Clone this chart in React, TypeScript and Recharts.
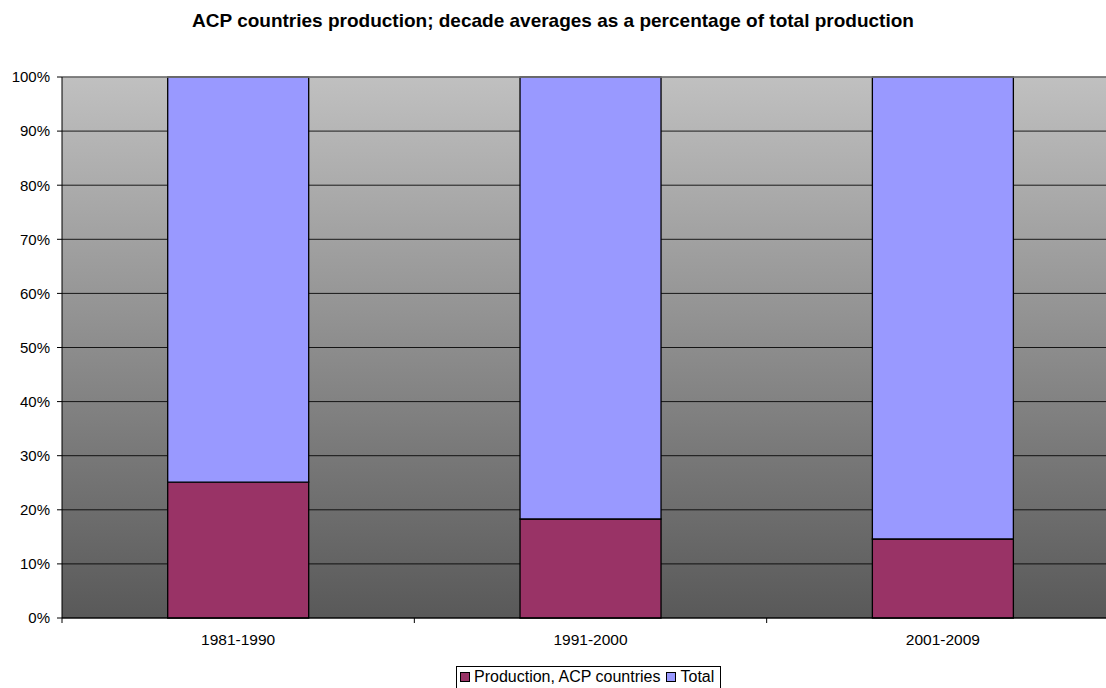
import React from 'react';
import { BarChart, Bar, XAxis, YAxis, CartesianGrid, ReferenceLine, Legend } from 'recharts';

const categories = ['1981-1990', '1991-2000', '2001-2009'];
const productionACP = [25.1, 18.3, 14.6];
const totalShare = [74.9, 81.7, 85.4];
const yTicks = [0, 10, 20, 30, 40, 50, 60, 70, 80, 90, 100];
const seriesNames = ['Production, ACP countries', 'Total'];
const seriesColors = ['#993366', '#9999FF'];
const title = 'ACP countries production; decade averages as a percentage of total production';

const data = categories.map((c, i) => ({ cat: c, prod: productionACP[i], total: totalShare[i] }));

const FONT = "Arial, 'Liberation Sans', sans-serif";

const CHART_W = 1130;
const CHART_H = 688;
const MARGIN = { top: 77, right: 11, bottom: 25, left: 0 };
const Y_AXIS_W = 62;
const BAND = (CHART_W - MARGIN.left - MARGIN.right - Y_AXIS_W) / categories.length;
const X_TICK_MARGIN = 16;

const CatTick = (props: any) => {
  const { x, y, payload, index } = props;
  const axisY = y - X_TICK_MARGIN;
  const left = x - BAND / 2;
  const right = x + BAND / 2;
  return (
    <g>
      <line x1={left} x2={left} y1={axisY} y2={axisY + 5} stroke="#000" />
      {index === categories.length - 1 && <line x1={right} x2={right} y1={axisY} y2={axisY + 5} stroke="#000" />}
      <text x={x} y={y} dy="0.71em" textAnchor="middle" fill="#000" fontSize={15.5} fontFamily={FONT}>
        {payload.value}
      </text>
    </g>
  );
};

const LegendBox = (props: any) => {
  const payload = props.payload || [];
  return (
    <div
      style={{
        border: '1px solid #000',
        background: '#fff',
        display: 'inline-flex',
        alignItems: 'center',
        padding: '1px 6px 4px 3px',
        fontFamily: FONT,
        fontSize: 16,
        color: '#000',
        whiteSpace: 'nowrap',
      }}
    >
      {payload.map((p: any, i: number) => (
        <span key={i} style={{ display: 'inline-flex', alignItems: 'center', marginRight: i < payload.length - 1 ? 6 : 0 }}>
          <span
            style={{
              display: 'inline-block',
              width: 8,
              height: 8,
              background: p.color,
              border: '1.5px solid #000',
              marginRight: 4,
            }}
          />
          {p.value}
        </span>
      ))}
    </div>
  );
};

export default function App() {
  return (
    <div style={{ position: 'absolute', left: 0, top: 0, width: 1106, height: 688, overflow: 'hidden', background: '#fff' }}>
      <div
        style={{
          position: 'absolute',
          left: 0,
          top: 10,
          width: 1106,
          textAlign: 'center',
          fontFamily: FONT,
          fontWeight: 'bold',
          fontSize: 19,
          color: '#000',
        }}
      >
        {title}
      </div>
      <BarChart
        width={CHART_W}
        height={CHART_H}
        data={data}
        margin={MARGIN}
        barCategoryGap="30%"
        style={{ position: 'absolute', left: 0, top: 0 }}
      >
        <defs>
          <linearGradient id="bgGrad" x1="0" y1="0" x2="0" y2="1">
            <stop offset="0%" stopColor="#c0c0c0" />
            <stop offset="100%" stopColor="#595959" />
          </linearGradient>
        </defs>
        <CartesianGrid
          vertical={false}
          stroke="#000"
          strokeOpacity={0.85}
          fill="url(#bgGrad)"
          fillOpacity={1}
        />
        <XAxis
          dataKey="cat"
          type="category"
          axisLine={{ stroke: '#000' }}
          tickLine={false}
          tickSize={0}
          tickMargin={X_TICK_MARGIN}
          height={45}
          interval={0}
          tick={<CatTick />}
        />
        <YAxis
          width={Y_AXIS_W}
          domain={[0, 100]}
          ticks={yTicks}
          tickFormatter={(v: number) => `${v}%`}
          tickSize={5}
          tickMargin={7}
          axisLine={{ stroke: '#000' }}
          tickLine={{ stroke: '#000' }}
          tick={{ fill: '#000', fontSize: 15, fontFamily: FONT }}
          interval={0}
        />
        <ReferenceLine y={100} stroke="#808080" strokeWidth={1.5} />
        <Bar
          dataKey="prod"
          name={seriesNames[0]}
          stackId="s"
          fill={seriesColors[0]}
          stroke="#000"
          strokeWidth={1.3}
          isAnimationActive={false}
        />
        <Bar
          dataKey="total"
          name={seriesNames[1]}
          stackId="s"
          fill={seriesColors[1]}
          stroke="#000"
          strokeWidth={1.3}
          isAnimationActive={false}
        />
        <Legend
          layout="vertical"
          align="center"
          verticalAlign="middle"
          wrapperStyle={{ top: 666, left: 456, width: 'auto', height: 'auto' }}
          content={<LegendBox />}
        />
      </BarChart>
    </div>
  );
}
